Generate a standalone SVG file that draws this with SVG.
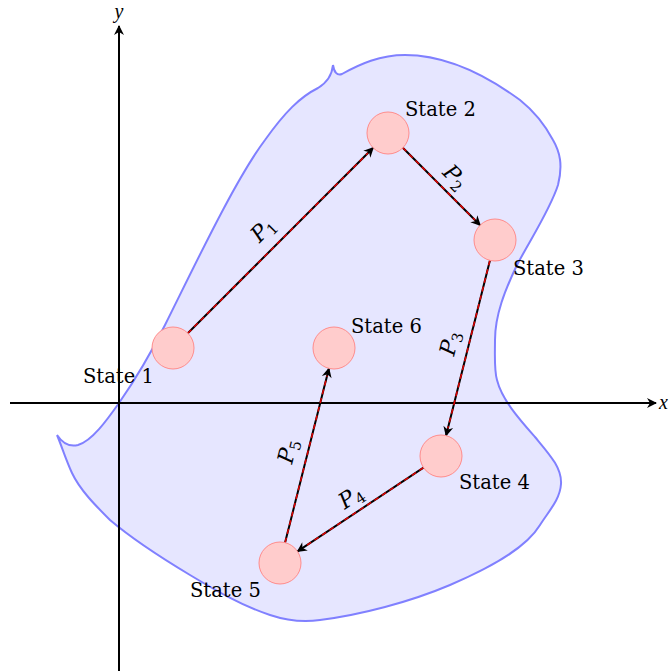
<svg xmlns="http://www.w3.org/2000/svg" width="670" height="671" viewBox="0 0 670 671">
<style>
.state{fill:#ffcccc;stroke:#ff8c8c;stroke-width:1}
.lbl{font-family:'DejaVu Serif',serif;font-size:19.5px;fill:#000}
.pl{font-family:'DejaVu Serif',serif;font-style:italic;font-size:22px;fill:#000}
.ax{font-family:'Liberation Serif',serif;font-style:italic;font-size:20px;fill:#000}
.sub{font-size:15px;font-style:normal}
.axis{stroke:#000;stroke-width:2;fill:none}
.cb{stroke:#000;stroke-width:2;fill:none}
.cr{stroke:#e00000;stroke-width:1.5;fill:none;stroke-dasharray:5 4}
</style>
<defs>
<marker id="ah" viewBox="-10 -6 12 12" refX="0" refY="0" markerWidth="12" markerHeight="12" markerUnits="userSpaceOnUse" orient="auto">
<path d="M1,0 L-9,-5 L-6,0 L-9,5 Z" fill="#000"/>
</marker>
</defs>
<g id="region">
<path d="M57,435 C63,444 70,447 78,445 C92,441 107,420 119,403 C135,380 150,355 165,325 C195,265 235,180 265,140 C285,112 300,97 318,88 C328,82 332,75 333,65 C334,72 337,76 342,74 C360,64 380,55 405,55 C450,55 490,78 520,100 C535,112 545,125 553,140 C560,152 563,165 558,185 C550,210 530,240 517,265 C505,290 495,315 495,340 C495,355 494,370 497,380 C502,400 520,420 535,437 C550,455 562,468 561,484 C560,500 548,512 540,525 C525,550 485,570 450,585 C410,602 360,615 320,620 C300,623 285,620 270,615 C240,605 215,590 190,575 C160,557 130,537 110,520 C95,505 80,490 72,473 C66,460 62,447 57,435 Z" fill="#e6e6ff" stroke="#8080ff" stroke-width="2"/>
</g>
<g id="axes">
<line class="axis" x1="10" y1="403" x2="656" y2="403" marker-end="url(#ah)"/>
<line class="axis" x1="119" y1="671" x2="119" y2="26" marker-end="url(#ah)"/>
<text class="ax" x="659" y="409">x</text>
<text class="ax" x="119" y="18" text-anchor="middle">y</text>
</g>
<g id="connectors">
<line class="cb" x1="187.8" y1="333.2" x2="373.2" y2="147.8" marker-end="url(#ah)"/>
<line class="cr" x1="187.8" y1="333.2" x2="368" y2="153"/>
<line class="cb" x1="402.8" y1="147.8" x2="480.2" y2="225.2" marker-end="url(#ah)"/>
<line class="cr" x1="402.8" y1="147.8" x2="475" y2="220"/>
<line class="cb" x1="489.9" y1="260.4" x2="446.1" y2="435.6" marker-end="url(#ah)"/>
<line class="cr" x1="489.9" y1="260.4" x2="447.9" y2="428.4"/>
<line class="cb" x1="423.5" y1="467.6" x2="297.5" y2="551.4" marker-end="url(#ah)"/>
<line class="cr" x1="423.5" y1="467.6" x2="303.7" y2="547.3"/>
<line class="cb" x1="285.1" y1="542.6" x2="328.9" y2="368.4" marker-end="url(#ah)"/>
<line class="cr" x1="285.1" y1="542.6" x2="327.1" y2="375.6"/>
<text class="pl" transform="translate(268,235) rotate(-45)" text-anchor="middle">P<tspan class="sub" dy="4">1</tspan></text>
<text class="pl" transform="translate(450,182) rotate(45)" text-anchor="middle">P<tspan class="sub" dy="4">2</tspan></text>
<text class="pl" transform="translate(457,345) rotate(-76)" text-anchor="middle">P<tspan class="sub" dy="4">3</tspan></text>
<text class="pl" transform="translate(355,503) rotate(-33.6)" text-anchor="middle">P<tspan class="sub" dy="4">4</tspan></text>
<text class="pl" transform="translate(295,453) rotate(-76)" text-anchor="middle">P<tspan class="sub" dy="4">5</tspan></text>
</g>
<g id="state1"><circle class="state" cx="173" cy="348" r="21"/><text class="lbl" x="83" y="383">State 1</text></g>
<g id="state2"><circle class="state" cx="388" cy="133" r="21"/><text class="lbl" x="405" y="116">State 2</text></g>
<g id="state3"><circle class="state" cx="495" cy="240" r="21"/><text class="lbl" x="513" y="275">State 3</text></g>
<g id="state4"><circle class="state" cx="441" cy="456" r="21"/><text class="lbl" x="459" y="489">State 4</text></g>
<g id="state5"><circle class="state" cx="280" cy="563" r="21"/><text class="lbl" x="190" y="597">State 5</text></g>
<g id="state6"><circle class="state" cx="334" cy="348" r="21"/><text class="lbl" x="351" y="333">State 6</text></g>
</svg>
